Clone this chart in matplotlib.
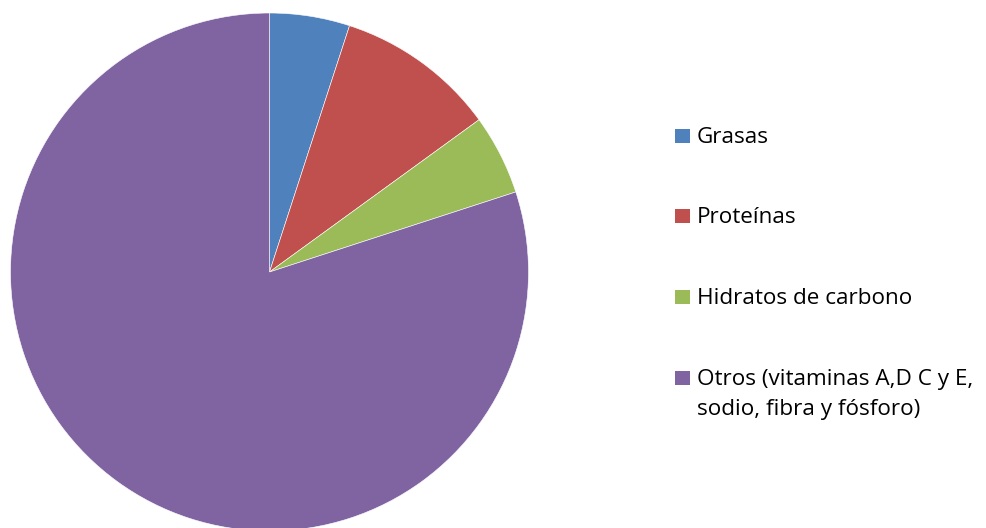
import matplotlib
matplotlib.use("Agg")
import matplotlib.pyplot as plt
from matplotlib.patches import Rectangle

categories = ["Grasas", "Proteínas", "Hidratos de carbono", "Otros (vitaminas A,D C y E,\nsodio, fibra y fósforo)"]
values = [5, 10, 5, 80]
colors = ["#4F81BD", "#C0504D", "#9BBB59", "#8064A2"]

W, H = 987, 528
fig = plt.figure(figsize=(W / 100, H / 100), dpi=100)
plt.rcParams['font.family'] = ['Open Sans', 'DejaVu Sans']

cx, cy, r = 269.5, 272, 259
ax = fig.add_axes([(cx - r) / W, (H - cy - r) / H, 2 * r / W, 2 * r / H])
ax.pie(values, colors=colors, startangle=90, counterclock=False, radius=1,
       wedgeprops=dict(edgecolor="white", linewidth=0.4))
ax.set_xlim(-1, 1)
ax.set_ylim(-1, 1)
ax.set_aspect("equal")
ax.axis("off")

baselines = [143, 223, 304, 385]
for lab, col, yb in zip(categories, colors, baselines):
    fig.patches.append(Rectangle((675 / W, (H - yb) / H), 15 / W, 14 / H,
                                 transform=fig.transFigure, facecolor=col, edgecolor="none"))
    for i, line in enumerate(lab.split("\n")):
        fig.text(697 / W, (H - yb - 30 * i) / H, line, fontsize=16.2, color="black",
                 ha="left", va="baseline")

fig.savefig("out.png", dpi=100)
